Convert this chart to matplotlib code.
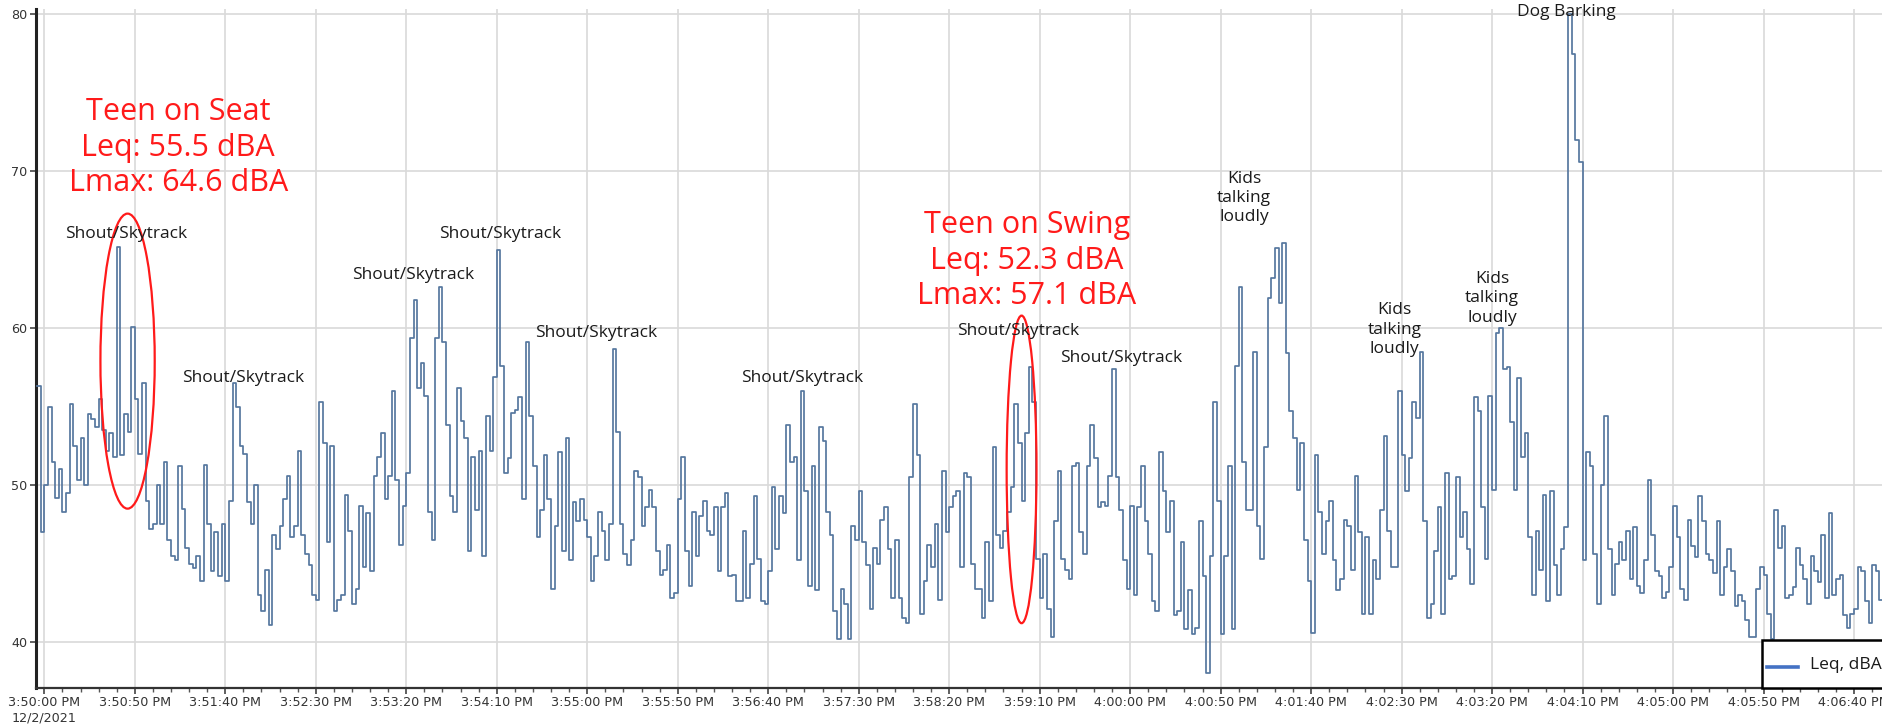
import matplotlib
matplotlib.use('Agg')
import matplotlib.pyplot as plt
from matplotlib.patches import Ellipse, Rectangle
from matplotlib.lines import Line2D
from matplotlib.ticker import MultipleLocator, FuncFormatter
import numpy as np

plt.rcParams['font.family'] = ['Open Sans', 'DejaVu Sans']

# Leq, dBA sampled every 2 s, first sample at 3:49:56 PM (t = -4 s)
first_t = -4
step_s = 2

seg_1 = [56.3, 47.0, 50.0, 55.0, 51.5, 49.2, 51.0, 48.3, 49.5, 55.2,
         52.5, 50.3, 53.0, 50.0, 54.5, 54.2, 53.7, 55.5, 53.5, 52.2,
         53.3, 51.8, 65.2, 51.9, 54.5, 53.4, 60.1, 55.5, 52.0, 56.5,
         49.0, 47.2, 47.5, 50.0, 47.5, 51.5, 46.5, 45.5, 45.2, 51.2,
         48.5, 46.0, 45.0, 44.7, 45.5, 43.9, 51.3, 47.5, 44.5, 47.0,
         44.2, 47.5, 43.9, 49.0, 56.5, 55.0]
seg_2 = [52.5, 52.0, 48.9, 47.5, 50.0, 43.0, 42.0, 44.6, 41.1, 46.8,
         45.9, 47.4, 49.1, 50.6, 46.7, 47.4, 52.2, 46.8, 45.6, 44.9,
         43.0, 42.7, 55.3, 52.7, 46.4, 52.5, 42.0, 42.7, 43.0, 49.4,
         47.1, 42.4, 43.4, 48.7, 44.8, 48.2, 44.5, 50.6, 51.8, 53.3,
         49.1, 50.6, 56.0, 50.3, 46.2, 48.7, 50.8, 59.4, 61.8, 56.2,
         57.8, 55.7, 48.3, 46.5, 59.4, 62.6, 59.1, 53.8, 49.3, 48.3,
         56.2, 54.1]
seg_3 = [53.0, 45.8, 51.8, 48.4, 52.2, 45.5, 54.4, 52.2, 56.9, 65.0,
         57.6, 50.8, 51.7, 54.6, 54.8, 55.6, 49.1, 59.1, 54.4, 51.2,
         46.7, 48.4, 51.9, 49.1, 43.4, 47.4, 52.1, 45.8, 53.0, 45.2,
         48.9, 47.7, 49.1, 47.8, 46.7, 43.9, 45.5, 48.3, 47.1, 45.2,
         47.5, 58.7, 53.4, 47.5, 45.6, 44.9, 46.5, 50.9, 50.5, 47.4,
         48.6, 49.7, 48.6, 45.8, 44.3, 44.6, 46.2, 42.8, 43.1, 49.1,
         51.8, 45.8, 43.6, 48.3, 45.5]
seg_4 = [48.0, 49.0, 47.1, 46.8, 48.6, 44.5, 48.6, 49.5, 44.2, 44.3,
         42.6, 42.6, 47.1, 42.8, 45.0, 49.3, 45.3, 42.6, 42.4, 44.5,
         49.9, 45.9, 49.3, 48.2, 53.8, 51.5, 51.8, 45.2, 56.0, 49.6,
         43.6, 51.2, 43.3, 53.7, 52.8, 48.3, 46.8, 42.0, 40.2, 43.4,
         42.4, 40.2, 47.4, 46.5, 49.6, 46.4, 44.9, 42.1, 46.0, 45.0,
         47.8, 48.6, 45.9, 42.8, 46.5, 42.8, 41.5, 41.2, 50.5, 55.2,
         51.9, 41.8]
seg_5 = [43.9, 46.2, 44.8, 47.5, 42.7, 50.9, 47.0, 48.6, 49.3, 49.6,
         44.8, 50.8, 50.5, 45.0, 43.4, 43.4, 41.5, 46.4, 42.6, 52.4,
         46.8, 46.0, 47.1, 48.3, 49.9, 55.2, 52.7, 49.0, 53.3, 57.5,
         55.3, 45.3, 42.8, 45.6, 42.1, 40.3, 47.7, 50.9, 45.3, 44.6,
         44.0, 51.2, 51.4, 47.0, 45.6, 51.2, 53.8, 51.7, 48.6, 48.9,
         48.7, 50.6, 57.4, 50.5, 48.4, 45.2, 43.4, 48.7, 43.0, 48.6,
         51.2, 47.7, 45.6, 42.6, 42.0]
seg_6 = [52.1, 49.6, 47.0, 49.0, 41.7, 42.0, 46.4, 40.8, 43.3, 40.5,
         40.9, 47.7, 44.2, 38.0, 45.5, 55.3, 49.0, 40.5, 45.5, 51.2,
         40.8, 57.6, 62.6, 51.5, 48.4, 48.4, 58.5, 47.4, 45.3, 52.4,
         61.9, 63.2, 65.1, 61.6, 65.4, 58.4, 54.7, 53.0, 49.7, 52.7,
         46.5, 43.9, 40.6, 51.9, 48.3, 45.6, 47.7, 49.0, 45.2, 43.3,
         44.0, 47.8, 47.4, 44.6, 50.6, 47.0, 41.8, 46.7, 41.8, 45.2,
         44.0, 48.4, 53.1]
seg_7 = [47.1, 44.8, 44.8, 56.0, 51.9, 49.6, 51.7, 55.3, 54.3, 58.5,
         47.7, 41.5, 42.4, 45.8, 48.6, 41.8, 50.8, 44.0, 44.2, 50.5,
         46.7, 48.3, 45.9, 43.7, 55.6, 54.7, 48.6, 45.3, 55.7, 49.7,
         59.7, 60.0, 57.4, 57.5, 54.0, 49.7, 56.8, 51.8, 53.3, 46.7,
         43.0, 47.1, 44.6, 49.4, 42.6, 49.6, 44.9, 43.0, 45.9, 47.3,
         80.0, 77.5, 72.0, 70.6, 45.2, 52.1, 51.2, 45.6, 42.4, 50.0,
         54.4, 45.9, 43.0, 45.0]
seg_8 = [46.4, 45.2, 47.1, 44.0, 47.3, 43.6, 43.1, 45.2, 50.3, 46.8,
         44.5, 44.2, 42.8, 43.2, 44.8, 48.7, 46.7, 43.4, 42.7, 47.8,
         46.1, 45.4, 49.3, 47.7, 45.6, 45.2, 44.4, 47.7, 43.0, 44.8,
         45.9, 44.5, 42.3, 43.0, 42.6, 41.4, 40.3, 40.3, 43.4, 44.8,
         44.3, 41.8, 40.2, 48.4, 46.0, 47.4, 42.8, 43.0, 43.5, 46.0,
         44.9, 44.0, 42.4, 45.5, 44.5, 43.8, 46.8, 42.8, 48.2, 43.0,
         44.0, 44.3, 41.7, 40.9, 41.8, 42.1, 44.8, 44.5, 42.6, 41.2,
         44.9, 44.5, 42.7, 48.6]

leq = np.array(seg_1 + seg_2 + seg_3 + seg_4 + seg_5 + seg_6 + seg_7 + seg_8)
t = first_t + step_s * np.arange(len(leq))

W, H = 1883, 724
fig = plt.figure(figsize=(W / 100, H / 100), dpi=100)
ax = fig.add_axes([36 / W, 36 / H, 1 - 36 / W, (688 - 9) / H])

ax.step(t, leq, where='post', color='#56779f', lw=1.25, zorder=3)

ax.set_xlim(-4.6, 1016)
ax.set_ylim(37.07, 80.34)

# time axis labels
def clock(x, pos):
    s = int(round(x)) + 15 * 3600 + 50 * 60
    h, m, sec = s // 3600, s % 3600 // 60, s % 60
    lab = f"{h - 12}:{m:02d}:{sec:02d} PM"
    if int(round(x)) == 0:
        lab += "\n12/2/2021"
    return lab

ax.xaxis.set_major_locator(MultipleLocator(50))
ax.xaxis.set_minor_locator(MultipleLocator(10))
ax.xaxis.set_major_formatter(FuncFormatter(clock))
ax.yaxis.set_major_locator(MultipleLocator(10))

ax.grid(True, which='major', color='#d9d9d9', lw=1.2, zorder=0)
for s in ['top', 'right']:
    ax.spines[s].set_visible(False)
ax.spines['left'].set_linewidth(2.2)
ax.spines['left'].set_color('#222222')
ax.spines['bottom'].set_linewidth(1.6)
ax.spines['bottom'].set_color('#333333')
ax.tick_params(axis='both', which='major', length=4, width=1.2, color='#444444',
               labelsize=9.2, labelcolor='#333333', pad=2)
ax.tick_params(axis='x', which='minor', length=3, width=1, color='#555555')
for lab in ax.get_xticklabels() + ax.get_yticklabels():
    lab.set_fontfamily('DejaVu Sans')

# events
red = '#ff1a1a'
ax.add_patch(Ellipse((46, 57.9), 30, 18.8, fill=False, ec=red, lw=1.6, zorder=4))
ax.add_patch(Ellipse((540, 51.0), 16.5, 19.6, fill=False, ec=red, lw=1.6, zorder=4))
ax.text(74, 71.5, "Teen on Seat\nLeq: 55.5 dBA\nLmax: 64.6 dBA", color=red,
        fontsize=22, ha='center', va='center', linespacing=1.25)
ax.text(543, 64.3, "Teen on Swing\nLeq: 52.3 dBA\nLmax: 57.1 dBA", color=red,
        fontsize=22, ha='center', va='center', linespacing=1.25)

ink = '#1a1a1a'
notes = [("Shout/Skytrack", 45, 66.0), ("Shout/Skytrack", 110, 56.8),
         ("Shout/Skytrack", 204, 63.4), ("Shout/Skytrack", 252, 66.0),
         ("Shout/Skytrack", 305, 59.7), ("Shout/Skytrack", 419, 56.8),
         ("Shout/Skytrack", 538, 59.8), ("Shout/Skytrack", 595, 58.1),
         ("Kids\ntalking\nloudly", 663, 68.3), ("Kids\ntalking\nloudly", 746, 59.9),
         ("Kids\ntalking\nloudly", 800, 61.9), ("Dog Barking", 841, 80.15)]
for txt, x, y in notes:
    ax.text(x, y, txt, color=ink, fontsize=12.5, ha='center', va='center',
            linespacing=1.28, zorder=5)

# legend box, running off the right edge as in the source screenshot
fig.add_artist(Rectangle((1762 / W, 1 - 688 / H), 200 / W, 48 / H, transform=fig.transFigure,
                         fc='white', ec='black', lw=1.8, zorder=6))
fig.add_artist(Line2D([1767 / W, 1798 / W], [1 - 667 / H] * 2, transform=fig.transFigure,
                      color='#4472c4', lw=2.6, zorder=7))
fig.text(1810 / W, 1 - 665 / H, "Leq, dBA", fontsize=12.5, color='#1a1a1a',
         va='center', ha='left', zorder=7)

fig.savefig('out.png', dpi=100)
